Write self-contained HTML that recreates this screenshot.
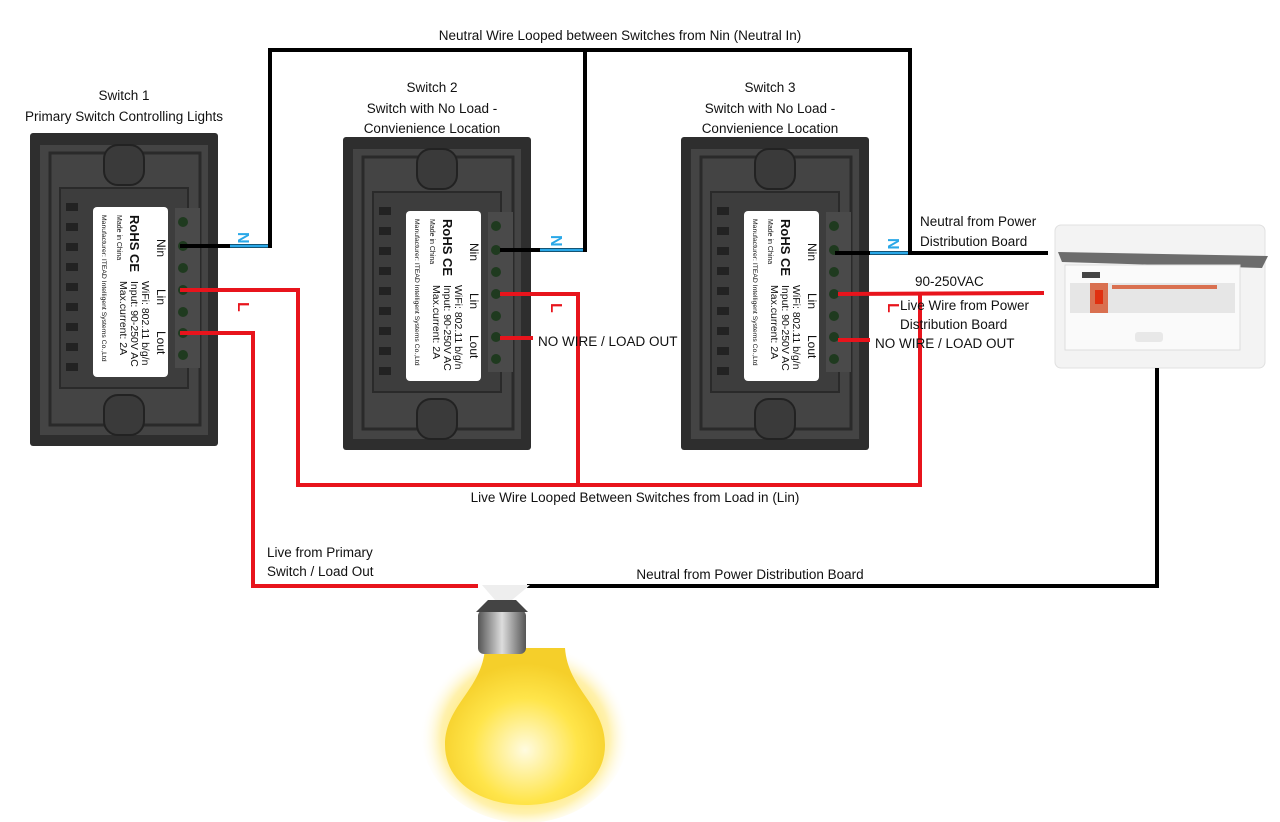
<!DOCTYPE html>
<html><head><meta charset="utf-8"><style>
html,body{margin:0;padding:0;background:#fff;}
svg{display:block;font-family:"Liberation Sans",sans-serif;}
.t{font-size:13.5px;fill:#111;}
</style></head><body>
<svg width="1280" height="822" viewBox="0 0 1280 822" xmlns="http://www.w3.org/2000/svg">
<defs>
<radialGradient id="glow" cx="0.5" cy="0.55" r="0.5">
<stop offset="0" stop-color="#fff6b0"/><stop offset="0.55" stop-color="#ffe55a"/><stop offset="0.8" stop-color="#ffe878" stop-opacity="0.6"/><stop offset="1" stop-color="#fff" stop-opacity="0"/>
</radialGradient>
<radialGradient id="glass" cx="0.5" cy="0.65" r="0.55">
<stop offset="0" stop-color="#fffbe0"/><stop offset="0.6" stop-color="#ffe54a"/><stop offset="1" stop-color="#f5cf2a"/>
</radialGradient>
<linearGradient id="screw" x1="0" x2="1"><stop offset="0" stop-color="#555"/><stop offset="0.5" stop-color="#ddd"/><stop offset="1" stop-color="#555"/></linearGradient>
<g id="sw">
<rect x="0" y="0" width="188" height="313" rx="3" fill="#2e2e2e"/>
<rect x="10" y="12" width="168" height="290" fill="#444"/>
<rect x="20" y="20" width="150" height="272" fill="none" stroke="#2a2a2a" stroke-width="3"/>
<rect x="74" y="12" width="40" height="40" rx="14" fill="#3a3a3a" stroke="#222" stroke-width="2"/>
<rect x="74" y="262" width="40" height="40" rx="14" fill="#3a3a3a" stroke="#222" stroke-width="2"/>
<rect x="30" y="55" width="128" height="200" fill="#3d3d3d" stroke="#2a2a2a" stroke-width="2"/>
<g fill="#222"><rect x="36" y="70" width="12" height="8"/><rect x="36" y="90" width="12" height="8"/><rect x="36" y="110" width="12" height="8"/><rect x="36" y="130" width="12" height="8"/><rect x="36" y="150" width="12" height="8"/><rect x="36" y="170" width="12" height="8"/><rect x="36" y="190" width="12" height="8"/><rect x="36" y="210" width="12" height="8"/><rect x="36" y="230" width="12" height="8"/></g>
<rect x="145" y="75" width="25" height="160" fill="#4a4a4a"/>
<g fill="#1f3a1f"><circle cx="153" cy="89" r="5"/><circle cx="153" cy="113" r="5"/><circle cx="153" cy="135" r="5"/><circle cx="153" cy="157" r="5"/><circle cx="153" cy="179" r="5"/><circle cx="153" cy="200" r="5"/><circle cx="153" cy="222" r="5"/></g>
<rect x="63" y="74" width="75" height="170" rx="4" fill="#fff"/>
<g transform="translate(138,78) rotate(90)" fill="#111">
<text x="28" y="11" font-size="12">Nin</text><text x="78" y="11" font-size="12">Lin</text><text x="120" y="11" font-size="12">Lout</text>
<text x="70" y="26" font-size="10.5">WiFi: 802.11 b/g/n</text>
<text x="70" y="37" font-size="10.5">Input: 90-250V AC</text>
<text x="70" y="48" font-size="10.5">Max.current: 2A</text>
<text x="4" y="38" font-size="13" font-weight="bold">RoHS CE</text>
<text x="4" y="51" font-size="7">Made in China</text>
<text x="4" y="66" font-size="6.8">Manufacturer: ITEAD Intelligent Systems Co.,Ltd</text>
</g>
</g>
</defs>
<use href="#sw" x="30" y="133"/>
<use href="#sw" x="343" y="137"/>
<use href="#sw" x="681" y="137"/>
<!-- distribution board -->
<rect x="1055" y="225" width="210" height="143" rx="6" fill="#f3f3f3" stroke="#e0e0e0"/>
<polygon points="1058,252 1268,256 1262,268 1062,262" fill="#6c6c6c"/>
<rect x="1065" y="265" width="175" height="85" fill="#fafafa" stroke="#ddd"/>
<rect x="1082" y="272" width="18" height="6" fill="#444"/>
<rect x="1070" y="283" width="165" height="30" fill="#e6e6e6"/>
<rect x="1090" y="283" width="18" height="30" fill="#d97050"/><rect x="1095" y="290" width="8" height="14" fill="#e03010"/>
<rect x="1112" y="285" width="105" height="4" fill="#d97050"/>
<rect x="1135" y="332" width="28" height="10" rx="3" fill="#e8e8e8"/>
<!-- wires black -->
<g fill="none" stroke="#000" stroke-width="4">
<polyline points="180,246 270,246 270,50 910,50 910,253"/>
<polyline points="585,50 585,250 500,250"/>
<polyline points="835,253 1048,253"/>
<polyline points="527,586 1157,586 1157,368"/>
</g>
<g stroke="#2aa8e8" stroke-width="3"><line x1="230" y1="246" x2="268" y2="246"/><line x1="540" y1="250" x2="583" y2="250"/><line x1="870" y1="253" x2="908" y2="253"/></g>
<g fill="none" stroke="#e8141c" stroke-width="4">
<polyline points="180,290 298,290 298,485 920,485 920,294"/>
<polyline points="500,294 578,294 578,485"/>
<polyline points="838,294 1044,293"/>
<polyline points="180,333 253,333 253,586 478,586"/>
<polyline points="500,338 533,338"/>
<polyline points="838,340 870,340"/>
</g>
<g font-weight="bold" font-size="16">
<text x="238" y="232" fill="#2aa8e8" transform="rotate(90 238 232)">N</text>
<text x="551" y="235" fill="#2aa8e8" transform="rotate(90 551 235)">N</text>
<text x="888" y="238" fill="#2aa8e8" transform="rotate(90 888 238)">N</text>
<text x="238" y="302" fill="#e8141c" transform="rotate(90 238 302)">L</text>
<text x="551" y="303" fill="#e8141c" transform="rotate(90 551 303)">L</text>
<text x="888" y="303" fill="#e8141c" transform="rotate(90 888 303)">L</text>
</g>
<!-- bulb -->
<ellipse cx="525" cy="728" rx="105" ry="95" fill="url(#glow)"/>
<path d="M485,648 C482,690 445,705 445,745 C445,785 485,805 525,805 C565,805 605,785 605,745 C605,705 568,690 565,648 Z" fill="url(#glass)"/>
<rect x="478" y="610" width="48" height="44" rx="6" fill="url(#screw)"/>
<polygon points="488,600 516,600 528,612 476,612" fill="#444"/>
<polygon points="482,585 530,585 512,600 495,600" fill="#eee"/>
<g class="t">
<text x="620" y="40" text-anchor="middle">Neutral Wire Looped between Switches from Nin (Neutral In)</text>
<text x="124" y="100" text-anchor="middle">Switch 1</text>
<text x="124" y="121" text-anchor="middle">Primary Switch Controlling Lights</text>
<text x="432" y="92" text-anchor="middle">Switch 2</text>
<text x="432" y="113" text-anchor="middle">Switch with No Load -</text>
<text x="432" y="133" text-anchor="middle">Convienience Location</text>
<text x="770" y="92" text-anchor="middle">Switch 3</text>
<text x="770" y="113" text-anchor="middle">Switch with No Load -</text>
<text x="770" y="133" text-anchor="middle">Convienience Location</text>
<text x="920" y="226">Neutral from Power</text>
<text x="920" y="246">Distribution Board</text>
<text x="915" y="286">90-250VAC</text>
<text x="900" y="310">Live Wire from Power</text>
<text x="900" y="329">Distribution Board</text>
<text x="538" y="346">NO WIRE / LOAD OUT</text>
<text x="875" y="348">NO WIRE / LOAD OUT</text>
<text x="635" y="502" text-anchor="middle">Live Wire Looped Between Switches from Load in (Lin)</text>
<text x="267" y="557">Live from Primary</text>
<text x="267" y="576">Switch / Load Out</text>
<text x="750" y="579" text-anchor="middle">Neutral from Power Distribution Board</text>
</g>
</svg>
</body></html>
